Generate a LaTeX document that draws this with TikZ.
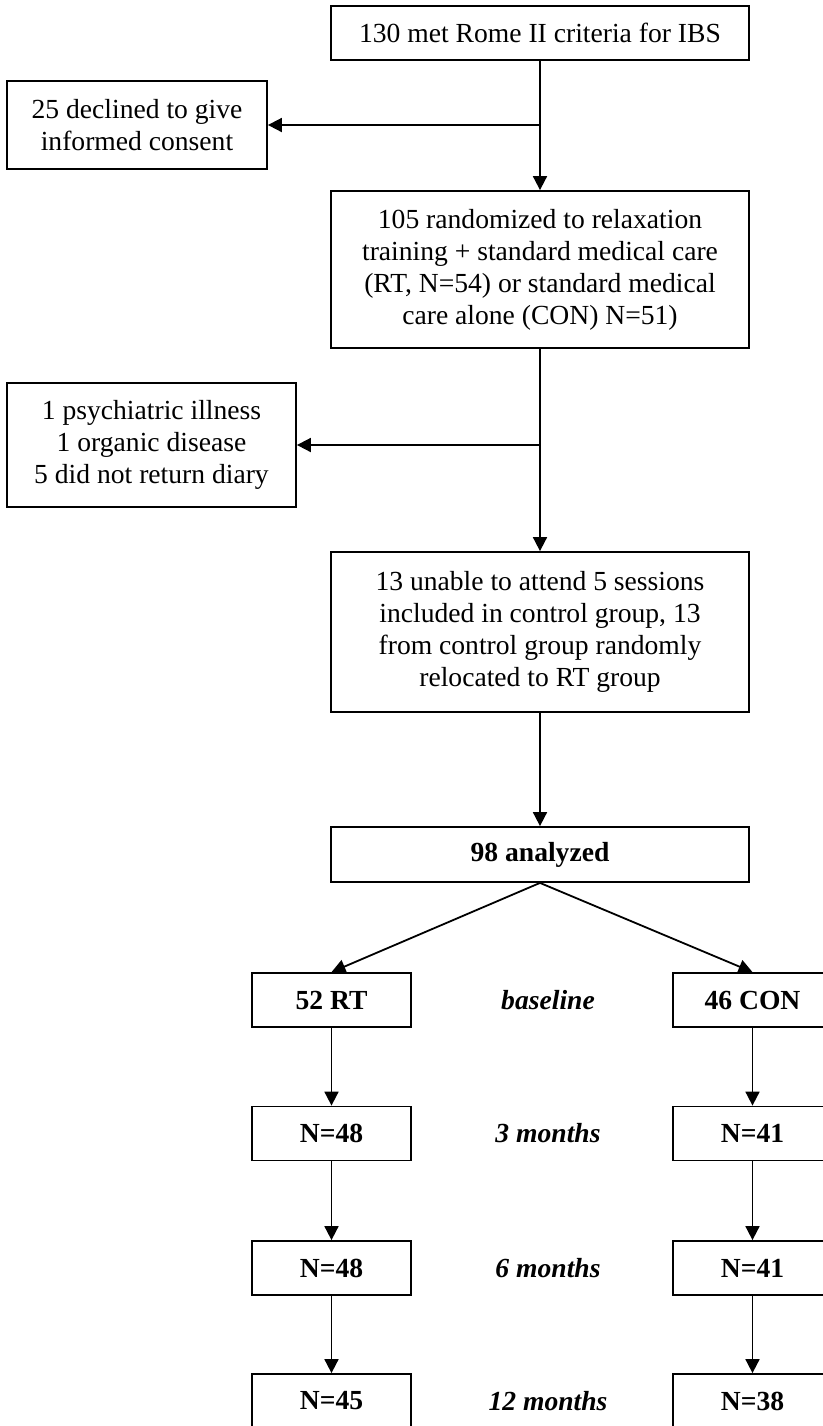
\documentclass[tikz,border=0pt]{standalone}
\usepackage{fontspec}
\setmainfont{Liberation Serif}
\usepackage{tikz}
\usetikzlibrary{calc}
\usetikzlibrary{arrows.meta}

\begin{document}
\begin{tikzpicture} [x=.5pt,y=-.5pt,
  box/.style={draw,line width=.9pt,align=center,inner sep=0pt,font=\fontsize{13.8}{16}\selectfont},
  grp/.style={box,minimum width=79.5pt,minimum height=27pt,font=\fontsize{13.8}{16}\selectfont\bfseries},
  when/.style={font=\fontsize{13.8}{16}\selectfont\bfseries\itshape},
  arr/.style={-{Triangle[length=7pt,width=7pt]},line width=.9pt}]

\useasboundingbox (0,0) rectangle (823,1426);

\coordinate (J1) at (540,125);
\coordinate (J2) at (540,445);

\node[box,minimum width=209pt,minimum height=27pt] (met) at (540,33) {130 met Rome II criteria for IBS};
\node[box,minimum width=130pt,minimum height=44pt] (declined) at (137,125) {25 declined to give\\informed consent};
\node[box,minimum width=209pt,minimum height=78.5pt] (rand) at (540,269.5) {105 randomized to relaxation\\training + standard medical care\\(RT, N=54) or standard medical\\care alone (CON) N=51)};
\node[box,minimum width=144.5pt,minimum height=62pt] (excl) at (151.5,445) {1 psychiatric illness\\1 organic disease\\5 did not return diary};
\node[box,minimum width=209pt,minimum height=80pt] (unable) at (540,632) {13 unable to attend 5 sessions\\included in control group, 13\\from control group randomly\\relocated to RT group};
\node[box,minimum width=209pt,minimum height=27.5pt,font=\fontsize{13.8}{16}\selectfont\bfseries] (ana) at (540,854.5) {98 analyzed};

\node[grp] (RT0) at (331.5,1000) {52 RT};
\node[grp] (RT1) at (331.5,1133.5) {N=48};
\node[grp] (RT2) at (331.5,1268) {N=48};
\node[grp] (RT3) at (331.5,1401) {N=45};
\node[grp] (CON0) at (752.5,1000) {46 CON};
\node[grp] (CON1) at (752.5,1133.5) {N=41};
\node[grp] (CON2) at (752.5,1268) {N=41};
\node[grp] (CON3) at (752.5,1401) {N=38};

\node[when] (t0) at (548,1000) {baseline};
\node[when] (t1) at (548,1133.5) {3 months};
\node[when] (t2) at (548,1268) {6 months};
\node[when] (t3) at (548,1401) {12 months};

\draw[arr] (met) -- (rand);
\draw[arr] (J1) -- (declined.east);
\draw[arr] (rand) -- (unable);
\draw[arr] (J2) -- (excl.east);
\draw[arr] (unable) -- (ana);
\draw[arr] (ana.south) -- (RT0.north);
\draw[arr] (ana.south) -- (CON0.north);
\draw[arr] (RT0) -- (RT1);
\draw[arr] (RT1) -- (RT2);
\draw[arr] (RT2) -- (RT3);
\draw[arr] (CON0) -- (CON1);
\draw[arr] (CON1) -- (CON2);
\draw[arr] (CON2) -- (CON3);

\end{tikzpicture}
\end{document}
